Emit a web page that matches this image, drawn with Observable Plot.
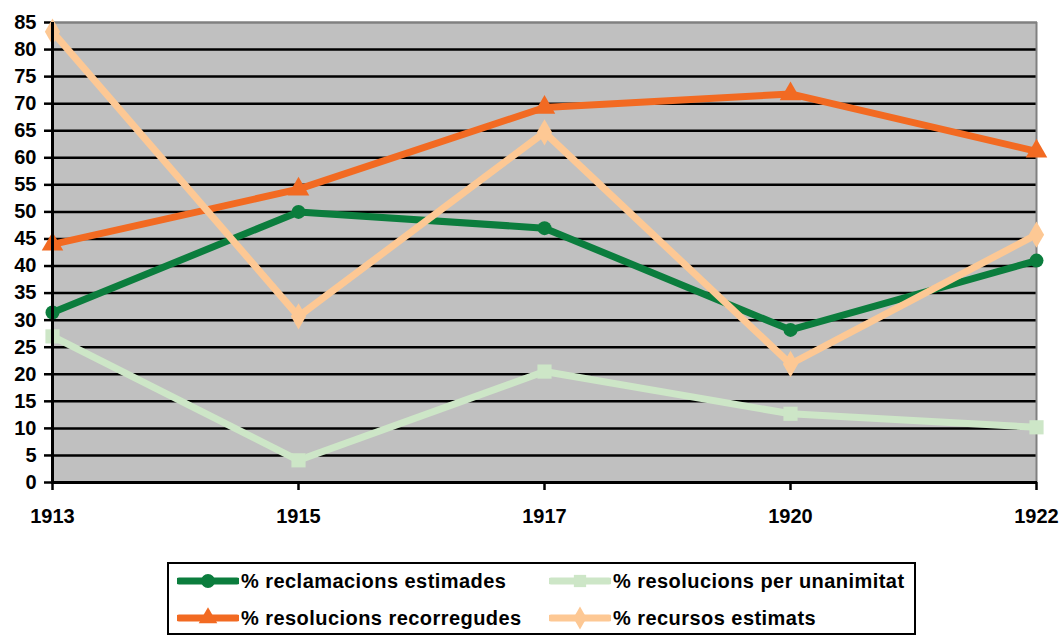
<!DOCTYPE html>
<html>
<head>
<meta charset="utf-8">
<script src="https://cdn.jsdelivr.net/npm/d3@7"></script>
<script src="https://cdn.jsdelivr.net/npm/@observablehq/plot@0.6"></script>
<style>
  body { margin: 0; background: #fff; }
  #wrap { position: relative; width: 1062px; height: 637px; font-family: "Liberation Sans", Arial, sans-serif; font-weight: bold; }
  #chart svg text { font-weight: bold; }
  #legend { position: absolute; left: 167px; top: 562px; width: 745px; height: 69px; border: 2px solid #000; box-sizing: content-box; }
  .item { position: absolute; display: flex; align-items: center; font-size: 20px; letter-spacing: 0.45px; color: #000; white-space: nowrap; }
  .item svg { margin-right: 2px; }
</style>
</head>
<body>
<div id="wrap"><div id="chart"></div><div id="legend"></div></div>
<script>
const years = ["1913", "1915", "1917", "1920", "1922"];
const reclamacions = [31.4, 50, 47, 28.2, 41];
const unanimitat = [27, 4.1, 20.5, 12.7, 10.2];
const recorregudes = [44, 54.2, 69.3, 71.8, 61.2];
const recursos = [83.3, 30.7, 64.7, 21.9, 45.8];
const seriesNames = ["% reclamacions estimades", "% resolucions per unanimitat", "% resolucions recorregudes", "% recursos estimats"];
const seriesColors = ["#0B7D3D", "#CDE6C7", "#F26A22", "#FDC894"];
const seriesSymbols = ["circle", "square", "triangle", "diamond"];
const yTicks = d3.range(0, 86, 5);

const allValues = [reclamacions, unanimitat, recorregudes, recursos];
const data = allValues.flatMap((vals, i) => vals.map((v, j) => ({year: years[j], value: v, series: seriesNames[i]})));

const marks = [
  Plot.rect([0], {x1: () => years[0], x2: () => years[years.length - 1], y1: 0, y2: 85, fill: "#C0C0C0"}),
  Plot.ruleY(yTicks.filter(t => t > 0 && t < 85), {stroke: "#000", strokeWidth: 2.5}),
  Plot.ruleY([85], {stroke: "#808080", strokeWidth: 2.5}),
  Plot.ruleX([years[years.length - 1]], {y1: 0, y2: 85, stroke: "#808080", strokeWidth: 2}),
  Plot.axisY({ticks: yTicks, tickSize: 7, tickPadding: 8, strokeWidth: 2.5, label: null}),
  Plot.axisX({tickSize: 8, tickPadding: 18, strokeWidth: 2.5, label: null}),
];
seriesNames.forEach((name, i) => {
  const d = data.filter(r => r.series === name);
  marks.push(Plot.line(d, {x: "year", y: "value", stroke: seriesColors[i], strokeWidth: 7, strokeLinejoin: "miter"}));
  marks.push(Plot.dot(d, {x: "year", y: "value", fill: seriesColors[i], stroke: "none", symbol: seriesSymbols[i], r: i === 0 ? 7 : 8}));
});
marks.push(Plot.ruleX([years[0]], {y1: 0, y2: 85, stroke: "#000", strokeWidth: 3}));
marks.push(Plot.ruleY([0], {stroke: "#000", strokeWidth: 3}));

const chart = Plot.plot({
  width: 1062,
  height: 560,
  marginLeft: 51,
  marginRight: 25,
  marginTop: 22,
  marginBottom: 78,
  x: {type: "point", domain: years, padding: 0},
  y: {domain: [0, 85]},
  style: {fontFamily: "'Liberation Sans', Arial, sans-serif", fontWeight: "bold", fontSize: "20px", color: "#000", background: "#fff"},
  marks
});
document.getElementById("chart").appendChild(chart);

// legend
const legend = document.getElementById("legend");
const pos = [[8, 4], [380, 4], [8, 41], [380, 41]];
seriesNames.forEach((name, i) => {
  const item = document.createElement("div");
  item.className = "item";
  item.style.left = pos[i][0] + "px";
  item.style.top = pos[i][1] + "px";
  item.style.height = "26px";
  const sym = d3.symbol().type({circle: d3.symbolCircle, square: d3.symbolSquare, triangle: d3.symbolTriangle, diamond: d3.symbolDiamond}[seriesSymbols[i]]).size(150)();
  item.innerHTML = `<svg width="62" height="26"><line x1="2" x2="60" y1="13" y2="13" stroke="${seriesColors[i]}" stroke-width="7" stroke-linecap="round"/><path transform="translate(31,13)" d="${sym}" fill="${seriesColors[i]}"/></svg><span>${name}</span>`;
  legend.appendChild(item);
});
</script>
</body>
</html>
